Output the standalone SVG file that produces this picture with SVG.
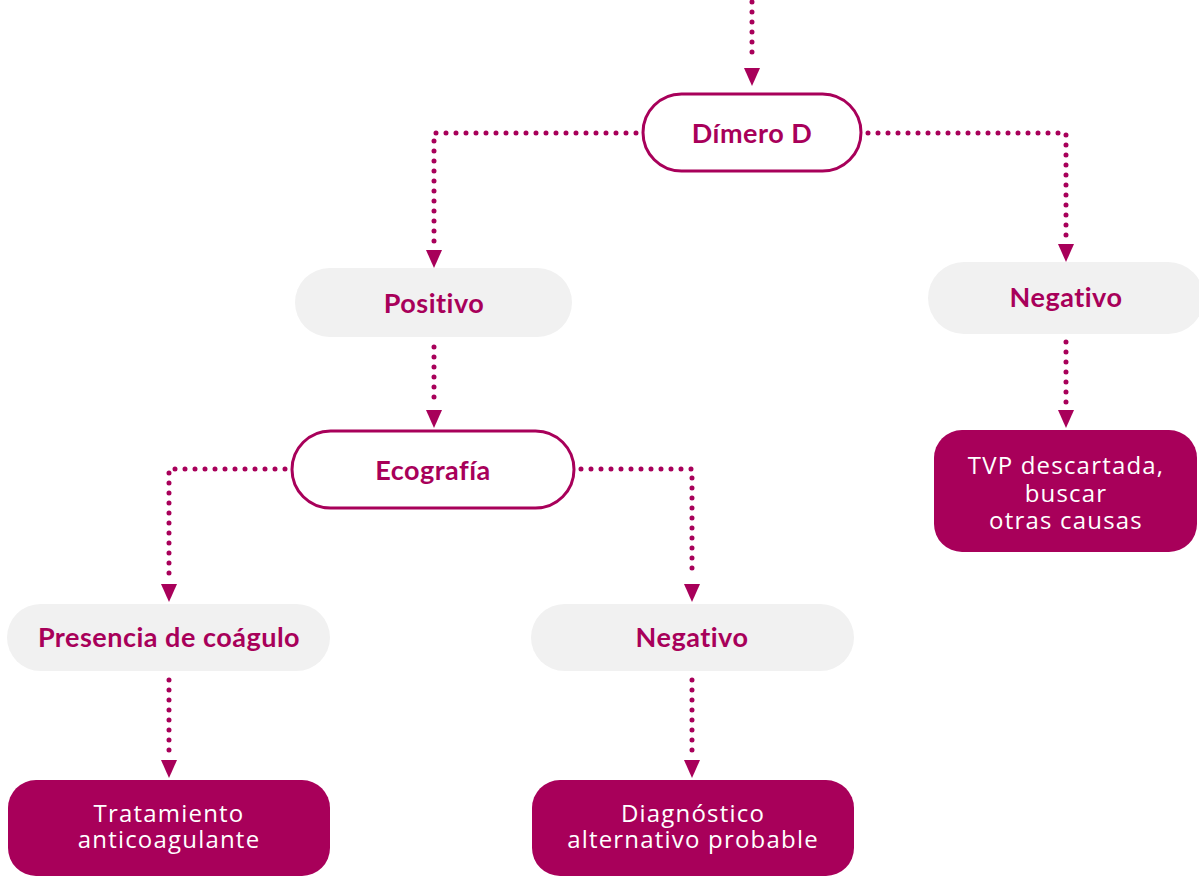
<svg xmlns="http://www.w3.org/2000/svg" width="1199" height="878" viewBox="0 0 1199 878">
<defs>
<style>
.pill{fill:#fff;stroke:#A8005A;stroke-width:3}
.grey{fill:#F1F1F1}
.dark{fill:#A8005A}
.hb{font-family:"Lato","Open Sans",sans-serif;font-weight:700;font-size:27px;letter-spacing:0.5px;fill:#A8005A;text-anchor:middle}
.wt{font-family:"Open Sans","Noto Sans",sans-serif;font-size:24px;letter-spacing:1.2px;fill:#fff;text-anchor:middle}
.dot{fill:none;stroke:#A8005A;stroke-width:5;stroke-linecap:round;stroke-dasharray:0 10}
.ah{fill:#A8005A}
</style>
</defs>
<g id="connectors">
<path class="dot" d="M752 2 V62"/><polygon class="ah" points="744,68 760,68 752,86"/>
<path class="dot" d="M636 133 H434 V244"/><polygon class="ah" points="426,250 442,250 434,268"/>
<path class="dot" d="M868 133 H1066 V238"/><polygon class="ah" points="1058,244 1074,244 1066,262"/>
<path class="dot" d="M434 347 V405"/><polygon class="ah" points="426,410 442,410 434,428"/>
<path class="dot" d="M285 469 H169 V578"/><polygon class="ah" points="161,584 177,584 169,602"/>
<path class="dot" d="M581 469 H692 V578"/><polygon class="ah" points="684,584 700,584 692,602"/>
<path class="dot" d="M169 680 V755"/><polygon class="ah" points="161,760 177,760 169,778"/>
<path class="dot" d="M692 680 V755"/><polygon class="ah" points="684,760 700,760 692,778"/>
<path class="dot" d="M1066 342 V404"/><polygon class="ah" points="1058,410 1074,410 1066,428"/>
</g>
<g id="dimero"><rect class="pill" x="643" y="94" width="218" height="77" rx="38.5"/><text class="hb" x="752" y="143">Dímero D</text></g>
<g id="positivo"><rect class="grey" x="295" y="268" width="277" height="69" rx="34.5"/><text class="hb" x="434" y="313">Positivo</text></g>
<g id="negativo1"><rect class="grey" x="928" y="262" width="276" height="72" rx="36"/><text class="hb" x="1066" y="307">Negativo</text></g>
<g id="ecografia"><rect class="pill" x="292" y="431" width="282" height="77" rx="38.5"/><text class="hb" x="433" y="480">Ecografía</text></g>
<g id="presencia"><rect class="grey" x="7" y="604" width="323" height="67" rx="33.5"/><text class="hb" x="169" y="647">Presencia de coágulo</text></g>
<g id="negativo2"><rect class="grey" x="531" y="604" width="323" height="67" rx="33.5"/><text class="hb" x="692" y="647">Negativo</text></g>
<g id="tvp"><rect class="dark" x="934" y="430" width="263" height="122" rx="28"/><text class="wt" x="1066" y="474">TVP descartada,</text><text class="wt" x="1066" y="502">buscar</text><text class="wt" x="1066" y="529">otras causas</text></g>
<g id="tratamiento"><rect class="dark" x="8" y="780" width="322" height="96" rx="28"/><text class="wt" x="169" y="822">Tratamiento</text><text class="wt" x="169" y="848">anticoagulante</text></g>
<g id="diagnostico"><rect class="dark" x="532" y="780" width="322" height="96" rx="28"/><text class="wt" x="693" y="822">Diagnóstico</text><text class="wt" x="693" y="848">alternativo probable</text></g>
</svg>
